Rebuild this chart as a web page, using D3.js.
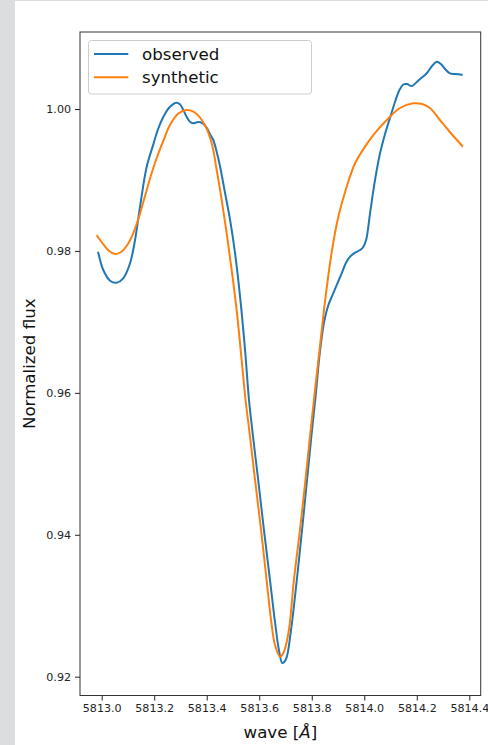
<!DOCTYPE html>
<html>
<head>
<meta charset="utf-8">
<script src="https://cdn.jsdelivr.net/npm/d3@7"></script>
<style>
  html, body { margin: 0; padding: 0; background: #dcdddf; }
  svg { display: block; }
</style>
</head>
<body>
<svg id="chart" width="488" height="745"></svg>
<script>
// Observed spectrum around the 5813.7 Å line
const obsWave = [5812.987, 5813.006, 5813.032, 5813.057, 5813.082, 5813.108, 5813.127, 5813.146, 5813.171, 5813.197,
  5813.214, 5813.235, 5813.260, 5813.286, 5813.298, 5813.311, 5813.324, 5813.336, 5813.349, 5813.363,
  5813.376, 5813.390, 5813.403, 5813.414, 5813.425, 5813.438, 5813.451, 5813.470, 5813.489, 5813.508,
  5813.527, 5813.546, 5813.561, 5813.578, 5813.596, 5813.618, 5813.641, 5813.660, 5813.675, 5813.688,
  5813.702, 5813.721, 5813.743, 5813.763, 5813.782, 5813.799, 5813.814, 5813.831, 5813.847, 5813.862,
  5813.876, 5813.892, 5813.914, 5813.930, 5813.946, 5813.965, 5813.984, 5813.995, 5814.007, 5814.022,
  5814.041, 5814.060, 5814.079, 5814.098, 5814.117, 5814.134, 5814.149, 5814.163, 5814.181, 5814.208,
  5814.238, 5814.258, 5814.276, 5814.292, 5814.311, 5814.326, 5814.349, 5814.371];
const obsFlux = [0.97975, 0.97731, 0.97580, 0.97552, 0.97614, 0.97826, 0.98154, 0.98623, 0.99180, 0.99505,
  0.99710, 0.99891, 1.00032, 1.00089, 1.00066, 0.99986, 0.99887, 0.99821, 0.99798, 0.99813,
  0.99813, 0.99782, 0.99718, 0.99634, 0.99563, 0.99394, 0.99187, 0.98812, 0.98436, 0.97966,
  0.97355, 0.96604, 0.95899, 0.95335, 0.94772, 0.94067, 0.93362, 0.92771, 0.92376, 0.92193,
  0.92249, 0.92658, 0.93362, 0.94067, 0.94772, 0.95406, 0.95927, 0.96576, 0.96998, 0.97224,
  0.97351, 0.97492, 0.97685, 0.97830, 0.97919, 0.97975, 0.98013, 0.98048, 0.98154, 0.98530,
  0.99000, 0.99376, 0.99648, 0.99873, 1.00099, 1.00268, 1.00345, 1.00352, 1.00324, 1.00409,
  1.00503, 1.00606, 1.00667, 1.00634, 1.00550, 1.00503, 1.00493, 1.00483];

// Synthetic spectrum
const synWave = [5812.983, 5813.005, 5813.028, 5813.051, 5813.074, 5813.096, 5813.119, 5813.142, 5813.165, 5813.188,
  5813.211, 5813.233, 5813.260, 5813.292, 5813.324, 5813.355, 5813.393, 5813.419, 5813.438, 5813.457,
  5813.476, 5813.495, 5813.514, 5813.533, 5813.548, 5813.565, 5813.584, 5813.607, 5813.628, 5813.645,
  5813.660, 5813.679, 5813.694, 5813.713, 5813.732, 5813.755, 5813.776, 5813.795, 5813.814, 5813.833,
  5813.854, 5813.876, 5813.901, 5813.933, 5813.965, 5814.003, 5814.041, 5814.098, 5814.136, 5814.187,
  5814.220, 5814.250, 5814.288, 5814.326, 5814.373];
const synFlux = [0.98210, 0.98098, 0.97999, 0.97957, 0.97985, 0.98076, 0.98238, 0.98478, 0.98774, 0.99070,
  0.99324, 0.99535, 0.99775, 0.99937, 0.99986, 0.99951, 0.99775, 0.99517, 0.99140, 0.98718,
  0.98248, 0.97731, 0.97167, 0.96463, 0.95899, 0.95378, 0.94772, 0.94067, 0.93362, 0.92799,
  0.92446, 0.92282, 0.92352, 0.92658, 0.93362, 0.94067, 0.94772, 0.95448, 0.96096, 0.96716,
  0.97393, 0.97985, 0.98478, 0.98905, 0.99235, 0.99469, 0.99662, 0.99891, 1.00014, 1.00080,
  1.00070, 1.00014, 0.99845, 0.99676, 0.99479];

const xTicks = [5813.0, 5813.2, 5813.4, 5813.6, 5813.8, 5814.0, 5814.2, 5814.4];
const yTicks = [0.92, 0.94, 0.96, 0.98, 1.00];
const seriesNames = ["observed", "synthetic"];
const seriesColors = ["#1f77b4", "#ff7f0e"];

const svg = d3.select("#chart");
const font = "'DejaVu Sans', sans-serif";

// white figure area
svg.append("rect").attr("x", 15).attr("y", 1).attr("width", 473).attr("height", 744).attr("fill", "#ffffff");

const plot = { left: 80, top: 32, right: 480.7, bottom: 695.5 };

const x = d3.scaleLinear().domain([5812.9174, 5814.4434]).range([plot.left, plot.right]);
const y = d3.scaleLinear().domain([0.91735, 1.01085]).range([plot.bottom, plot.top]);

const series = [
  obsWave.map((w, i) => [w, obsFlux[i]]),
  synWave.map((w, i) => [w, synFlux[i]])
];

const line = d3.line()
  .x(d => x(d[0]))
  .y(d => y(d[1]))
  .curve(d3.curveCatmullRom.alpha(0.5));

const g = svg.append("g");
g.append("clipPath").attr("id", "clip")
  .append("rect").attr("x", plot.left).attr("y", plot.top)
  .attr("width", plot.right - plot.left).attr("height", plot.bottom - plot.top);

const lines = g.append("g").attr("clip-path", "url(#clip)");
series.forEach((s, i) => {
  lines.append("path")
    .datum(s)
    .attr("d", line)
    .attr("fill", "none")
    .attr("stroke", seriesColors[i])
    .attr("stroke-width", 2)
    .attr("stroke-linejoin", "round")
    .attr("stroke-linecap", "square");
});

// axes
const xAxis = d3.axisBottom(x).tickValues(xTicks).tickFormat(d3.format(".1f")).tickSizeInner(5).tickSizeOuter(0).tickPadding(4);
const yAxis = d3.axisLeft(y).tickValues(yTicks).tickFormat(d3.format(".2f")).tickSizeInner(5).tickSizeOuter(0).tickPadding(4);

const gx = g.append("g").attr("transform", `translate(0,${plot.bottom})`).call(xAxis);
const gy = g.append("g").attr("transform", `translate(${plot.left},0)`).call(yAxis);
[gx, gy].forEach(a => {
  a.select(".domain").remove();
  a.selectAll(".tick line").attr("stroke", "#222").attr("stroke-width", 1);
  a.selectAll(".tick text").attr("fill", "#222").style("font-family", font).style("font-size", "11.1px");
});

// frame
g.append("rect")
  .attr("x", plot.left).attr("y", plot.top)
  .attr("width", plot.right - plot.left).attr("height", plot.bottom - plot.top)
  .attr("fill", "none").attr("stroke", "#333").attr("stroke-width", 1);

// axis labels
const xl = g.append("text")
  .attr("x", (plot.left + plot.right) / 2).attr("y", 738)
  .attr("text-anchor", "middle")
  .style("font-family", font).style("font-size", "16.67px").attr("fill", "#111");
xl.append("tspan").text("wave [");
xl.append("tspan").style("font-style", "italic").text("Å");
xl.append("tspan").text("]");

g.append("text")
  .attr("transform", `translate(35,${(plot.top + plot.bottom) / 2}) rotate(-90)`)
  .attr("text-anchor", "middle")
  .style("font-family", font).style("font-size", "16.67px").attr("fill", "#111")
  .text("Normalized flux");

// legend
const leg = g.append("g");
leg.append("rect")
  .attr("x", 88.5).attr("y", 40.5).attr("width", 223).attr("height", 53.5)
  .attr("rx", 3).attr("fill", "#ffffff").attr("fill-opacity", 0.8)
  .attr("stroke", "#cccccc").attr("stroke-width", 1);
seriesNames.forEach((name, i) => {
  const yy = 54 + i * 23.3;
  leg.append("line").attr("x1", 94).attr("x2", 128.3).attr("y1", yy).attr("y2", yy)
    .attr("stroke", seriesColors[i]).attr("stroke-width", 2);
  leg.append("text").attr("x", 142).attr("y", yy + 5.8)
    .style("font-family", font).style("font-size", "16.67px").attr("fill", "#111")
    .text(name);
});
</script>
</body>
</html>
